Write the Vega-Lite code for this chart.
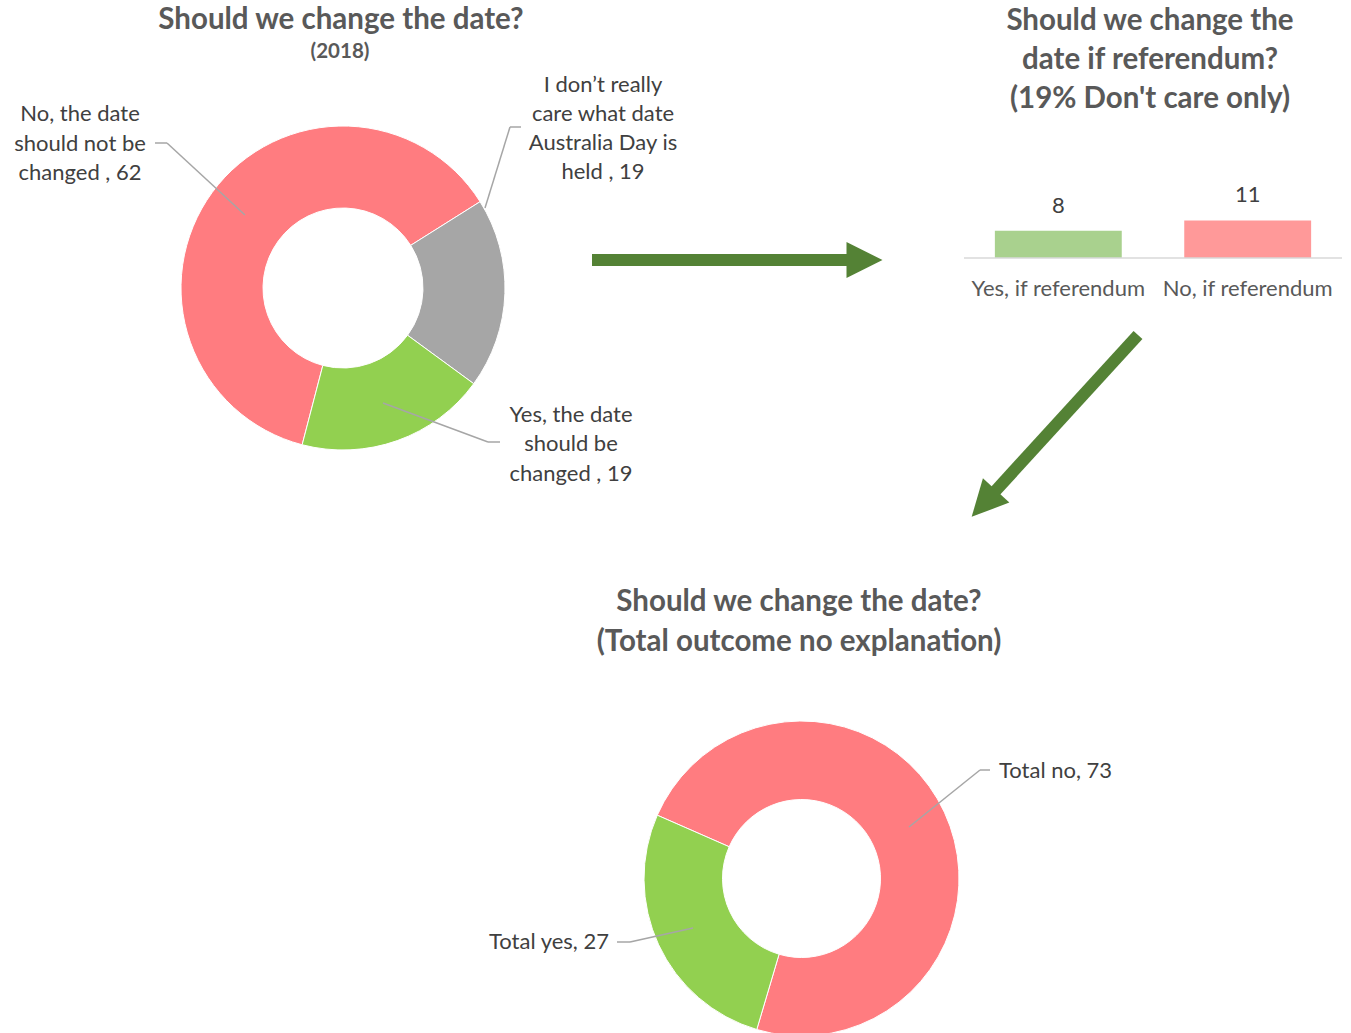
{
  "$schema": "https://vega.github.io/schema/vega-lite/v6.json",
  "usermeta": {"embedOptions": {"actions": false}},
  "padding": 0,
  "background": "white",
  "spacing": 0,
  "config": {"view": {"stroke": null}, "font": "Lato", "axis": {"disable": true}},
  "resolve": {"scale": {"color": "independent", "theta": "independent", "x": "independent", "y": "independent"}},
  "vconcat": [
    {
      "spacing": 0,
      "resolve": {"scale": {"color": "independent", "theta": "independent", "x": "independent", "y": "independent"}},
      "hconcat": [
        {
          "width": 963,
          "height": 520,
          "layer": [
            {
              "data": {"values": [
                {"answer": "No, the date should not be changed", "pct": 62},
                {"answer": "I don’t really care what date Australia Day is held", "pct": 19},
                {"answer": "Yes, the date should be changed", "pct": 19}
              ]},
              "mark": {"type": "arc", "outerRadius": 162, "innerRadius": 80, "stroke": "#ffffff", "strokeWidth": 1},
              "encoding": {
                "theta": {"field": "pct", "type": "quantitative", "stack": true, "scale": {"range": [2.2026, 8.4858]}},
                "color": {"field": "answer", "type": "nominal", "legend": null,
                  "scale": {"domain": ["No, the date should not be changed", "I don’t really care what date Australia Day is held", "Yes, the date should be changed"], "range": ["#FF7C80", "#A6A6A6", "#92D050"]}},
                "order": {"field": "answer", "sort": "descending"},
                "x": {"datum": 343, "type": "quantitative", "scale": {"domain": [0, 963], "nice": false, "zero": false}, "axis": null},
                "y": {"datum": 288, "type": "quantitative", "scale": {"domain": [0, 520], "nice": false, "zero": false, "reverse": true}, "axis": null}
              }
            },
            {
              "data": {"values": [{}]},
              "mark": {"type": "text", "fontSize": 29.5, "fontWeight": "bold", "color": "#595959", "align": "center", "baseline": "middle"},
              "encoding": {"x": {"datum": 341, "type": "quantitative"}, "y": {"datum": 20, "type": "quantitative"}, "text": {"value": "Should we change the date?"}}
            },
            {
              "data": {"values": [{}]},
              "mark": {"type": "text", "fontSize": 20.5, "fontWeight": "bold", "color": "#595959", "align": "center", "baseline": "middle"},
              "encoding": {"x": {"datum": 340, "type": "quantitative"}, "y": {"datum": 52, "type": "quantitative"}, "text": {"value": "(2018)"}}
            },
            {
              "data": {"values": [{}]},
              "mark": {"type": "text", "fontSize": 22, "color": "#404040", "align": "center", "baseline": "middle", "lineHeight": 29.5},
              "encoding": {"x": {"datum": 80, "type": "quantitative"}, "y": {"datum": 114, "type": "quantitative"}, "text": {"value": ["No, the date", "should not be", "changed , 62"]}}
            },
            {
              "data": {"values": [{}]},
              "mark": {"type": "text", "fontSize": 22, "color": "#404040", "align": "center", "baseline": "middle", "lineHeight": 29},
              "encoding": {"x": {"datum": 603, "type": "quantitative"}, "y": {"datum": 85, "type": "quantitative"}, "text": {"value": ["I don’t really", "care what date", "Australia Day is", "held , 19"]}}
            },
            {
              "data": {"values": [{}]},
              "mark": {"type": "text", "fontSize": 22, "color": "#404040", "align": "center", "baseline": "middle", "lineHeight": 29.5},
              "encoding": {"x": {"datum": 571, "type": "quantitative"}, "y": {"datum": 414.5, "type": "quantitative"}, "text": {"value": ["Yes, the date", "should be", "changed , 19"]}}
            },
            {
              "data": {"values": [{}]},
              "mark": {"type": "rule", "color": "#A6A6A6", "strokeWidth": 1.5},
              "encoding": {"x": {"datum": 155, "type": "quantitative"}, "y": {"datum": 143, "type": "quantitative"}, "x2": {"datum": 167}, "y2": {"datum": 143}}
            },
            {
              "data": {"values": [{}]},
              "mark": {"type": "rule", "color": "#A6A6A6", "strokeWidth": 1.5},
              "encoding": {"x": {"datum": 167, "type": "quantitative"}, "y": {"datum": 143, "type": "quantitative"}, "x2": {"datum": 245}, "y2": {"datum": 215}}
            },
            {
              "data": {"values": [{}]},
              "mark": {"type": "rule", "color": "#A6A6A6", "strokeWidth": 1.5},
              "encoding": {"x": {"datum": 521, "type": "quantitative"}, "y": {"datum": 127, "type": "quantitative"}, "x2": {"datum": 510}, "y2": {"datum": 127}}
            },
            {
              "data": {"values": [{}]},
              "mark": {"type": "rule", "color": "#A6A6A6", "strokeWidth": 1.5},
              "encoding": {"x": {"datum": 510, "type": "quantitative"}, "y": {"datum": 127, "type": "quantitative"}, "x2": {"datum": 485}, "y2": {"datum": 208}}
            },
            {
              "data": {"values": [{}]},
              "mark": {"type": "rule", "color": "#A6A6A6", "strokeWidth": 1.5},
              "encoding": {"x": {"datum": 383, "type": "quantitative"}, "y": {"datum": 403, "type": "quantitative"}, "x2": {"datum": 488}, "y2": {"datum": 442}}
            },
            {
              "data": {"values": [{}]},
              "mark": {"type": "rule", "color": "#A6A6A6", "strokeWidth": 1.5},
              "encoding": {"x": {"datum": 488, "type": "quantitative"}, "y": {"datum": 442, "type": "quantitative"}, "x2": {"datum": 500}, "y2": {"datum": 442}}
            },
            {
              "data": {"values": [{}]},
              "mark": {"type": "rule", "color": "#548235", "strokeWidth": 12, "strokeCap": "butt"},
              "encoding": {"x": {"datum": 592, "type": "quantitative"}, "y": {"datum": 260, "type": "quantitative"}, "x2": {"datum": 850}, "y2": {"datum": 260}}
            },
            {
              "data": {"values": [{}]},
              "mark": {"type": "point", "shape": "M-1,-1L1,0L-1,1Z", "size": 1296, "filled": true, "opacity": 1, "color": "#548235", "strokeWidth": 0, "angle": 0},
              "encoding": {"x": {"datum": 864.5, "type": "quantitative"}, "y": {"datum": 260, "type": "quantitative"}}
            }
          ]
        },
        {
          "width": 378,
          "height": 520,
          "resolve": {"scale": {"x": "independent", "y": "independent"}},
          "layer": [
            {
              "data": {"values": [
                {"answer": "Yes, if referendum", "count": 8},
                {"answer": "No, if referendum", "count": 11}
              ]},
              "layer": [
                {
                  "mark": {"type": "bar"},
                  "encoding": {
                    "x": {"field": "answer", "type": "nominal", "sort": null, "axis": null, "scale": {"paddingInner": 0.33, "paddingOuter": 0.163}},
                    "y": {"field": "count", "type": "quantitative", "axis": null, "scale": {"domain": [-76.6, 75.44], "nice": false, "zero": false}},
                    "color": {"field": "answer", "type": "nominal", "legend": null, "scale": {"domain": ["Yes, if referendum", "No, if referendum"], "range": ["#A9D18E", "#FF9999"]}}
                  }
                },
                {
                  "mark": {"type": "text", "fontSize": 22, "color": "#404040", "align": "center", "baseline": "middle", "dy": -25},
                  "encoding": {
                    "x": {"field": "answer", "type": "nominal", "sort": null},
                    "y": {"field": "count", "type": "quantitative"},
                    "text": {"field": "count", "type": "quantitative"}
                  }
                },
                {
                  "mark": {"type": "text", "fontSize": 22, "color": "#595959", "align": "center", "baseline": "middle"},
                  "encoding": {
                    "x": {"field": "answer", "type": "nominal", "sort": null},
                    "y": {"datum": -9, "type": "quantitative"},
                    "text": {"field": "answer", "type": "nominal"}
                  }
                },
                {
                  "data": {"values": [{}]},
                  "mark": {"type": "rule", "color": "#D9D9D9", "strokeWidth": 1.5},
                  "encoding": {"y": {"datum": 0, "type": "quantitative"}}
                }
              ]
            },
            {
              "data": {"values": [{}]},
              "layer": [
                {
                  "mark": {"type": "text", "fontSize": 29.5, "fontWeight": "bold", "color": "#595959", "align": "center", "baseline": "middle", "lineHeight": 39},
                  "encoding": {
                    "x": {"datum": 1149, "type": "quantitative", "scale": {"domain": [963, 1341], "nice": false, "zero": false}, "axis": null},
                    "y": {"datum": 20.5, "type": "quantitative", "scale": {"domain": [0, 520], "nice": false, "zero": false, "reverse": true}, "axis": null},
                    "text": {"value": ["Should we change the", "date if referendum?", "(19% Don't care only)"]}
                  }
                },
                {
                  "mark": {"type": "rule", "color": "#548235", "strokeWidth": 12, "strokeCap": "butt"},
                  "encoding": {"x": {"datum": 1137, "type": "quantitative"}, "y": {"datum": 335, "type": "quantitative"}, "x2": {"datum": 993}, "y2": {"datum": 492.5}}
                },
                {
                  "mark": {"type": "point", "shape": "M-1,-1L1,0L-1,1Z", "size": 1296, "filled": true, "opacity": 1, "color": "#548235", "strokeWidth": 0, "angle": 132.8},
                  "encoding": {"x": {"datum": 982.9, "type": "quantitative"}, "y": {"datum": 503.6, "type": "quantitative"}}
                }
              ]
            }
          ]
        }
      ]
    },
    {
      "width": 1351,
      "height": 513,
      "layer": [
        {
          "data": {"values": [
            {"answer": "Total no", "pct": 73},
            {"answer": "Total yes", "pct": 27}
          ]},
          "mark": {"type": "arc", "outerRadius": 157.5, "innerRadius": 79, "stroke": "#ffffff", "strokeWidth": 1},
          "encoding": {
            "theta": {"field": "pct", "type": "quantitative", "stack": true, "scale": {"range": [5.126, 11.4092]}},
            "color": {"field": "answer", "type": "nominal", "legend": null, "scale": {"domain": ["Total no", "Total yes"], "range": ["#FF7C80", "#92D050"]}},
            "order": {"field": "answer", "sort": "ascending"},
            "x": {"datum": 801.5, "type": "quantitative", "scale": {"domain": [0, 1351], "nice": false, "zero": false}, "axis": null},
            "y": {"datum": 878.5, "type": "quantitative", "scale": {"domain": [520, 1033], "nice": false, "zero": false, "reverse": true}, "axis": null}
          }
        },
        {
          "data": {"values": [{}]},
          "mark": {"type": "text", "fontSize": 29.5, "fontWeight": "bold", "color": "#595959", "align": "center", "baseline": "middle", "lineHeight": 40},
          "encoding": {"x": {"datum": 799, "type": "quantitative"}, "y": {"datum": 602, "type": "quantitative"}, "text": {"value": ["Should we change the date?", "(Total outcome no explanation)"]}}
        },
        {
          "data": {"values": [{}]},
          "mark": {"type": "text", "fontSize": 22, "color": "#404040", "align": "left", "baseline": "middle"},
          "encoding": {"x": {"datum": 999, "type": "quantitative"}, "y": {"datum": 771, "type": "quantitative"}, "text": {"value": "Total no, 73"}}
        },
        {
          "data": {"values": [{}]},
          "mark": {"type": "text", "fontSize": 22, "color": "#404040", "align": "right", "baseline": "middle"},
          "encoding": {"x": {"datum": 609, "type": "quantitative"}, "y": {"datum": 942, "type": "quantitative"}, "text": {"value": "Total yes, 27"}}
        },
        {
          "data": {"values": [{}]},
          "mark": {"type": "rule", "color": "#A6A6A6", "strokeWidth": 1.5},
          "encoding": {"x": {"datum": 909, "type": "quantitative"}, "y": {"datum": 827, "type": "quantitative"}, "x2": {"datum": 980}, "y2": {"datum": 770}}
        },
        {
          "data": {"values": [{}]},
          "mark": {"type": "rule", "color": "#A6A6A6", "strokeWidth": 1.5},
          "encoding": {"x": {"datum": 980, "type": "quantitative"}, "y": {"datum": 770, "type": "quantitative"}, "x2": {"datum": 990}, "y2": {"datum": 770}}
        },
        {
          "data": {"values": [{}]},
          "mark": {"type": "rule", "color": "#A6A6A6", "strokeWidth": 1.5},
          "encoding": {"x": {"datum": 617, "type": "quantitative"}, "y": {"datum": 942, "type": "quantitative"}, "x2": {"datum": 630}, "y2": {"datum": 942}}
        },
        {
          "data": {"values": [{}]},
          "mark": {"type": "rule", "color": "#A6A6A6", "strokeWidth": 1.5},
          "encoding": {"x": {"datum": 630, "type": "quantitative"}, "y": {"datum": 942, "type": "quantitative"}, "x2": {"datum": 693}, "y2": {"datum": 928}}
        }
      ]
    }
  ]
}
